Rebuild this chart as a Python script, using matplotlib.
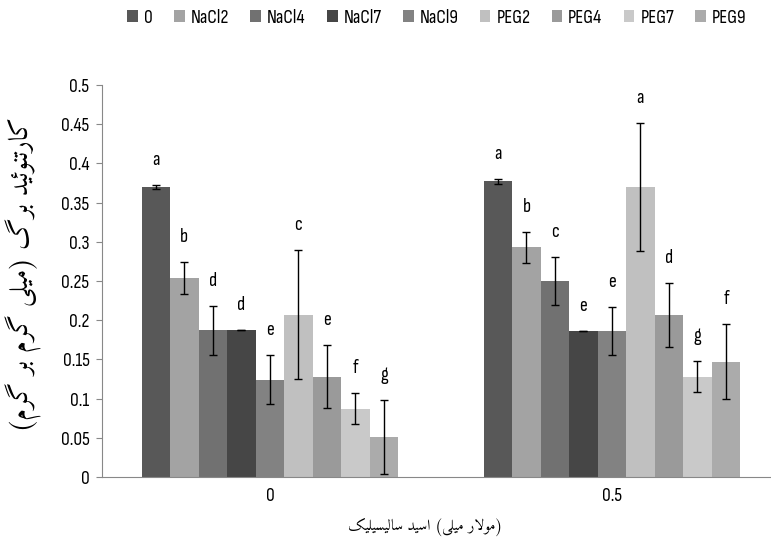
import numpy as np
import matplotlib
matplotlib.use("Agg")
import matplotlib.pyplot as plt
from matplotlib.patches import Patch

# ============== data ==============
groups = ["0", "0.5"]
series = ["0", "NaCl2", "NaCl4", "NaCl7", "NaCl9", "PEG2", "PEG4", "PEG7", "PEG9"]
colors = ["#585858", "#a3a3a3", "#717171", "#464646", "#828282",
          "#c0c0c0", "#9a9a9a", "#c9c9c9", "#ababab"]

values_0 = [0.370, 0.254, 0.187, 0.187, 0.124, 0.207, 0.128, 0.087, 0.051]
values_05 = [0.377, 0.293, 0.250, 0.186, 0.186, 0.370, 0.207, 0.128, 0.147]
err_0 = [0.003, 0.020, 0.031, 0.0, 0.031, 0.082, 0.040, 0.020, 0.047]
err_05 = [0.003, 0.020, 0.031, 0.0, 0.031, 0.082, 0.041, 0.020, 0.048]
letters_0 = ["a", "b", "d", "d", "e", "c", "e", "f", "g"]
letters_05 = ["a", "b", "c", "e", "e", "a", "d", "g", "f"]
ytick_labels = ["0", "0.05", "0.1", "0.15", "0.2", "0.25", "0.3", "0.35", "0.4", "0.45", "0.5"]

ylabel_fa = "کارتنوئید برگ (میلی گرم بر گرم)"
xlabel_fa = "سالیسیلیک اسید (میلی مولار)"

# ============== small persian shaper (matplotlib does no arabic shaping) ==============
# forms: isolated, final, initial, medial  (two entries = joins to the right only)
FORMS = {
    "ا": ("\ufe8d", "\ufe8e"), "د": ("\ufea9", "\ufeaa"), "ر": ("\ufead", "\ufeae"),
    "و": ("\ufeed", "\ufeee"),
    "ب": ("\ufe8f", "\ufe90", "\ufe91", "\ufe92"), "ت": ("\ufe95", "\ufe96", "\ufe97", "\ufe98"),
    "س": ("\ufeb1", "\ufeb2", "\ufeb3", "\ufeb4"), "ل": ("\ufedd", "\ufede", "\ufedf", "\ufee0"),
    "م": ("\ufee1", "\ufee2", "\ufee3", "\ufee4"), "ن": ("\ufee5", "\ufee6", "\ufee7", "\ufee8"),
    "ئ": ("\ufe89", "\ufe8a", "\ufe8b", "\ufe8c"), "ی": ("\ufbfc", "\ufbfd", "\ufbfe", "\ufbff"),
    "ک": ("\ufb8e", "\ufb8f", "\ufb90", "\ufb91"), "گ": ("\ufb92", "\ufb93", "\ufb94", "\ufb95"),
    "لا": ("\ufefb", "\ufefc"),
}


def shape_word(w):
    chars = []
    i = 0
    while i < len(w):
        if w[i] == "ل" and i + 1 < len(w) and w[i + 1] == "ا":
            chars.append("لا")
            i += 2
        else:
            chars.append(w[i])
            i += 1
    out = []
    for k, c in enumerate(chars):
        if c not in FORMS:
            out.append(c)
            continue
        prev = chars[k - 1] if k > 0 else None
        nxt = chars[k + 1] if k + 1 < len(chars) else None
        jp = prev is not None and prev in FORMS and len(FORMS[prev]) == 4
        jn = len(FORMS[c]) == 4 and nxt is not None and nxt in FORMS
        f = FORMS[c]
        if jp and jn:
            out.append(f[3])
        elif jp:
            out.append(f[1])
        elif jn:
            out.append(f[2])
        else:
            out.append(f[0])
    return "".join(out)


def rtl(text):
    # proper right-to-left visual order
    swap = {"(": ")", ")": "("}
    vis = [shape_word(w)[::-1] for w in text.split(" ")][::-1]
    return "".join(swap.get(ch, ch) for ch in " ".join(vis))


def ltr_words(text):
    # the original axis title keeps its words left-to-right, letters right-to-left
    parts = []
    for w in text.split(" "):
        core = w.strip("()")
        pre = "(" if w.startswith("(") else ""
        post = ")" if w.endswith(")") else ""
        parts.append(pre + shape_word(core)[::-1] + post)
    return " ".join(parts)


# ============== fonts ==============
latin = ['Sofia Sans Condensed', 'DejaVu Sans']
arabic = ['Amiri', 'DejaVu Sans']

# ============== plotting ==============
fig = plt.figure(figsize=(7.71, 5.46), dpi=100)
ax = fig.add_axes([102 / 771, 69 / 546, 668 / 771, 392 / 546])

x = np.arange(len(groups))
n = len(series)
width = 0.75 / n
vals = np.array([values_0, values_05])
errs = np.array([err_0, err_05])
lets = [letters_0, letters_05]

for i in range(n):
    pos = x - 0.375 + width * (i + 0.5)
    ax.bar(pos, vals[:, i], width, color=colors[i], edgecolor="none", label=series[i])
    ax.errorbar(pos, vals[:, i], yerr=errs[:, i], fmt="none", ecolor="black",
                elinewidth=1, capsize=3, capthick=1)
    for g in range(len(groups)):
        ax.annotate(lets[g][i], (pos[g], vals[g, i] + errs[g, i]), textcoords="offset points",
                    xytext=(0, 18), ha="center", va="center", fontsize=14, family=latin)

ax.set_ylim(0, 0.5)
ax.set_yticks(np.arange(0, 0.51, 0.05))
ax.set_yticklabels(ytick_labels, family=latin)
ax.set_xlim(-0.491, 1.462)
ax.set_xticks(x)
ax.set_xticklabels(groups, family=latin)
ax.tick_params(axis="y", length=4, color="#888888", labelsize=14, pad=5)
ax.tick_params(axis="x", length=0, labelsize=14, pad=7)
for s in ["top", "right"]:
    ax.spines[s].set_visible(False)
ax.spines["left"].set_color("#888888")
ax.spines["bottom"].set_color("#888888")

fig.text(24 / 771, 1 - 275 / 546, rtl(ylabel_fa), rotation=90, ha="center", va="center",
         fontsize=19, family=arabic)
fig.text(425 / 771, 1 - 527 / 546, ltr_words(xlabel_fa), ha="center", va="center",
         fontsize=11, family=arabic)

handles = [Patch(facecolor=c, edgecolor="none") for c in colors]
fig.legend(handles, series, loc="center", bbox_to_anchor=(437 / 771, 1 - 18 / 546), ncol=n,
           frameon=False, prop={'family': latin, 'size': 14}, handlelength=0.55,
           handleheight=0.55, handletextpad=0.3, columnspacing=1.1)

plt.savefig("out.png", dpi=100)
